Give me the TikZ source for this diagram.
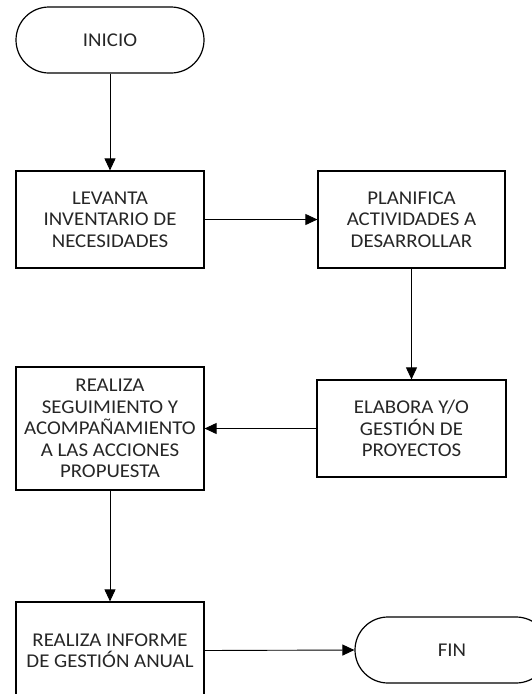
\documentclass[tikz,border=0pt]{standalone}
\usepackage{fontspec}
\setmainfont{Carlito}[FakeStretch=1.07]
\usetikzlibrary{arrows.meta}
\begin{document}
\begin{tikzpicture}[x=1pt,y=-1pt,
  txt/.style={font=\fontsize{19.5}{21.5}\selectfont, text=black!85, align=center, inner sep=0pt},
  procbox/.style={txt, draw, line width=1.2pt, rectangle},
  term/.style={txt, draw, line width=1.2pt, rectangle, rounded corners=33pt, minimum height=66pt},
  flow/.style={line width=0.9pt, -{Triangle[length=12pt,width=11pt]}}]
\useasboundingbox (0,0) rectangle (532,694);
\node[term, minimum width=188pt] (inicio) at (110,40) {INICIO};
\node[procbox, minimum width=188pt, minimum height=97pt] (levanta) at (110,219.5) {LEVANTA\\INVENTARIO DE\\NECESIDADES};
\node[procbox, minimum width=187pt, minimum height=97pt] (planifica) at (411.5,219.5) {PLANIFICA\\ACTIVIDADES A\\DESARROLLAR};
\node[procbox, minimum width=189pt, minimum height=97pt] (elabora) at (411.5,428.5) {ELABORA Y/O\\GESTIÓN DE\\PROYECTOS};
\node[procbox, minimum width=188pt, minimum height=123pt] (seguimiento) at (110,428.5) {REALIZA\\SEGUIMIENTO Y\\ACOMPAÑAMIENTO\\A LAS ACCIONES\\PROPUESTA};
\node[procbox, minimum width=188pt, minimum height=97pt] (informe) at (110,650.5) {REALIZA INFORME\\DE GESTIÓN ANUAL};
\node[term, minimum width=194pt] (fin) at (452,650) {FIN};
\draw[flow] (inicio) -- (levanta);
\draw[flow] (levanta) -- (planifica);
\draw[flow] (planifica) -- (elabora);
\draw[flow] (elabora) -- (seguimiento);
\draw[flow] (seguimiento) -- (informe);
\draw[flow] (informe.east) -- (fin.west);
\end{tikzpicture}
\end{document}
